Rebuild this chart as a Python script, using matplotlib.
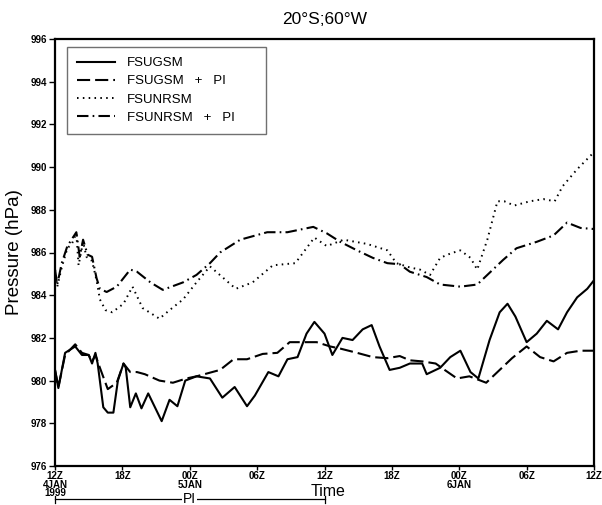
import matplotlib
matplotlib.use("Agg")
import matplotlib.pyplot as plt
import matplotlib.transforms as mtransforms

# hours since 12Z 4 JAN 1999, sea-level pressure (hPa)
gsm_hours = [0.0, 0.3, 0.9, 1.8, 2.4, 3.0, 3.3, 3.6, 3.8, 4.3, 4.7, 5.2, 5.6, 6.1,
             6.3, 6.7, 7.2, 7.7, 8.3, 9.5, 10.2, 10.9, 11.6, 12.6, 13.8, 14.9,
             16.0, 17.1, 17.8, 19.0, 19.9, 20.7, 21.6, 22.4, 23.1, 24.0, 24.7,
             25.6, 26.5, 27.4, 28.2, 28.9, 29.8, 30.7, 31.6, 32.7, 33.1, 34.3,
             35.2, 36.1, 37.0, 37.7, 38.7, 39.6, 40.3, 41.0, 42.0, 42.9, 43.8,
             44.8, 45.6, 46.5, 47.4, 48.0]
gsm_vals = [980.5, 979.65, 981.3, 981.6, 981.2, 981.2, 980.8, 981.3, 980.8, 978.75,
            978.5, 978.5, 980.0, 980.8, 980.6, 978.75, 979.4, 978.7, 979.4, 978.1,
            979.1, 978.8, 980.0, 980.2, 980.1, 979.2, 979.7, 978.8, 979.3, 980.4,
            980.2, 981.0, 981.1, 982.2, 982.75, 982.2, 981.2, 982.0, 981.9, 982.4,
            982.6, 981.6, 980.5, 980.6, 980.8, 980.8, 980.3, 980.6, 981.1, 981.4,
            980.4, 980.1, 981.9, 983.2, 983.6, 983.0, 981.8, 982.2, 982.8, 982.4,
            983.2, 983.9, 984.3, 984.7]

gsm_pi_hours = [0.0, 0.3, 0.9, 1.8, 2.4, 3.0, 3.3, 3.6, 4.0, 4.7, 5.5, 6.1, 6.7,
                7.3, 8.0, 9.3, 10.5, 11.7, 12.6, 14.7, 15.9, 17.1, 18.5, 19.8,
                20.9, 22.4, 23.3, 24.5, 25.4, 26.9, 28.3, 29.6, 30.7, 31.6, 32.7,
                33.9, 34.7, 35.8, 36.9, 38.4, 39.6, 40.7, 42.0, 43.2, 44.4, 45.6,
                46.8, 48.0]
gsm_pi_vals = [980.5, 979.7, 981.2, 981.7, 981.3, 981.2, 980.9, 981.2, 980.6, 979.6,
               979.9, 980.8, 980.4, 980.4, 980.3, 980.0, 979.9, 980.1, 980.2, 980.5,
               981.0, 981.0, 981.25, 981.3, 981.8, 981.8, 981.8, 981.6, 981.5, 981.3,
               981.1, 981.05, 981.15, 980.95, 980.9, 980.8, 980.5, 980.1, 980.2,
               979.9, 980.5, 981.05, 981.6, 981.1, 980.9, 981.3, 981.4, 981.4]

nrsm_hours = [0.0, 0.2, 0.6, 1.1, 1.5, 1.9, 2.1, 2.5, 2.8, 3.3, 3.7, 4.0, 4.5, 5.1,
              6.1, 6.9, 7.8, 9.3, 10.2, 11.4, 12.6, 13.8, 16.1, 17.6, 19.4, 21.4,
              23.1, 24.2, 25.7, 27.8, 29.6, 30.4, 31.6, 32.5, 33.4, 34.3, 35.2,
              36.1, 37.0, 37.6, 38.5, 39.4, 40.0, 40.9, 42.3, 43.5, 44.5, 45.2,
              46.5, 48.0]
nrsm_vals = [985.2, 984.4, 985.3, 986.2, 986.4, 986.9, 985.4, 986.5, 985.8, 985.6,
             984.7, 983.8, 983.3, 983.2, 983.6, 984.4, 983.4, 982.9, 983.3, 983.8,
             984.6, 985.35, 984.3, 984.6, 985.4, 985.5, 986.7, 986.3, 986.6, 986.4,
             986.1, 985.5, 985.3, 985.2, 984.95, 985.75, 985.95, 986.1, 985.75,
             985.2, 986.6, 988.4, 988.4, 988.2, 988.4, 988.5, 988.4, 989.1, 989.9,
             990.7]

nrsm_pi_hours = [0.0, 0.2, 0.6, 1.1, 1.9, 2.2, 2.5, 2.9, 3.3, 3.7, 4.0, 4.6, 5.5,
                 6.7, 7.3, 8.5, 9.6, 11.4, 12.6, 13.8, 14.7, 16.5, 18.9, 20.7, 23.0,
                 24.2, 25.4, 26.9, 28.3, 29.6, 30.7, 31.6, 33.1, 34.3, 36.1, 37.6,
                 38.5, 39.9, 41.1, 42.9, 44.4, 45.6, 46.8, 48.0]
nrsm_pi_vals = [985.2, 984.5, 985.5, 986.3, 986.95, 985.8, 986.6, 985.9, 985.8, 984.8,
                984.3, 984.15, 984.4, 985.2, 985.1, 984.6, 984.25, 984.6, 984.95,
                985.5, 986.0, 986.6, 986.95, 986.95, 987.2, 986.9, 986.5, 986.1,
                985.75, 985.5, 985.45, 985.1, 984.85, 984.5, 984.4, 984.5, 984.95,
                985.65, 986.2, 986.5, 986.8, 987.4, 987.15, 987.1]

tick_hours = [0, 6, 12, 18, 24, 30, 36, 42, 48]
tick_labels = ["12Z\n4JAN\n1999", "18Z", "00Z\n5JAN", "06Z", "12Z", "18Z",
               "00Z\n6JAN", "06Z", "12Z"]
y_ticks = list(range(976, 997, 2))

plt.rcParams['font.family'] = ['Liberation Sans', 'DejaVu Sans']

fig = plt.figure(figsize=(6.02, 5.05), dpi=100)
ax = fig.add_axes([55 / 602, 39 / 505, 539 / 602, 427 / 505])

ax.plot(gsm_hours, gsm_vals, color='black', lw=1.5, label='FSUGSM')
ax.plot(gsm_pi_hours, gsm_pi_vals, color='black', lw=1.5, dashes=(6.3, 2.4),
        label='FSUGSM   +   PI')
ax.plot(nrsm_hours, nrsm_vals, color='black', lw=1.4, dashes=(0.8, 2.2),
        label='FSUNRSM')
ax.plot(nrsm_pi_hours, nrsm_pi_vals, color='black', lw=1.5,
        dashes=(5.5, 2.0, 0.8, 2.0), label='FSUNRSM   +   PI      ')

ax.set_xlim(0, 48)
ax.set_ylim(976, 996)
ax.set_xticks(tick_hours)
ax.set_xticklabels(tick_labels, fontsize=7, fontweight='bold', linespacing=0.85)
ax.set_yticks(y_ticks)
ax.set_yticklabels([str(v) for v in y_ticks], fontsize=7, fontweight='bold')
ax.tick_params(direction='out', length=4, width=1, pad=1.5)
ax.tick_params(axis='x', length=3, pad=0.5)
for s in ax.spines.values():
    s.set_linewidth(1.6)

ax.set_title('20°S;60°W', fontsize=12.5, pad=11)
ax.set_ylabel('Pressure (hPa)', fontsize=13.5, labelpad=6)
ax.text(0.506, -0.06, 'Time', transform=ax.transAxes, ha='center', va='center',
        fontsize=11.5)

leg = ax.legend(loc='upper left', bbox_to_anchor=(0.022, 0.981), borderaxespad=0,
                fancybox=False, fontsize=9.5, handlelength=2.9, handletextpad=0.9,
                labelspacing=0.45, borderpad=0.75, framealpha=1)
leg.get_frame().set_edgecolor('#707070')
leg.get_frame().set_linewidth(1.0)

# PI period bar under the axis
trans = mtransforms.blended_transform_factory(ax.transData, ax.transAxes)
bar_y = -0.078
ax.plot([0, 24], [bar_y, bar_y], color='black', lw=0.9, transform=trans,
        clip_on=False)
for h in (0, 24):
    ax.plot([h, h], [bar_y - 0.008, bar_y + 0.008], color='black', lw=0.9,
            transform=trans, clip_on=False)
ax.text(12, bar_y, 'PI', transform=trans, ha='center', va='center', fontsize=10,
        bbox=dict(facecolor='white', edgecolor='none', pad=0.5))

fig.savefig('out.png', dpi=100)
